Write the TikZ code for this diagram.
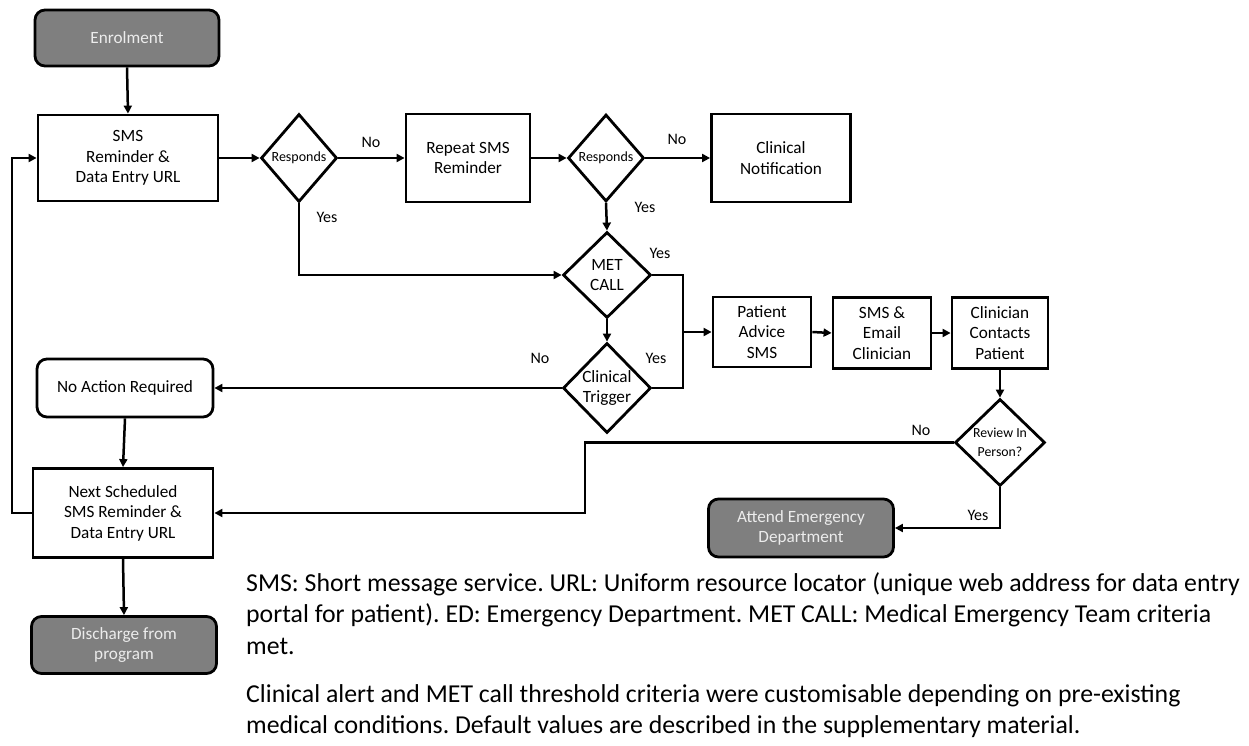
\documentclass[tikz,border=0pt]{standalone}
\usepackage{fontspec}
\setmainfont{Carlito}
\usetikzlibrary{arrows.meta,shapes.geometric}
\definecolor{boxgray}{RGB}{127,127,127}
\definecolor{lighttext}{RGB}{236,236,236}
\begin{document}
\frenchspacing
\begin{tikzpicture}[x=1pt,y=-1pt,
  base/.style={draw=black, line width=2.8pt, align=center, inner sep=0pt, font=\fontsize{17.2}{20.5}\selectfont},
  sqbox/.style={base, fill=white, rectangle},
  rbox/.style={base, fill=white, rectangle, rounded corners=10pt},
  gbox/.style={base, fill=boxgray, text=lighttext, rectangle, rounded corners=10pt},
  dia/.style={base, fill=white, diamond, aspect=1},
  arr/.style={line width=2.5pt, -{Triangle[length=8pt,width=8pt]}},
  ln/.style={line width=2.5pt},
  lab/.style={font=\fontsize{16}{18}\selectfont, inner sep=0pt},
  captext/.style={font=\fontsize{25.8}{31}\selectfont, anchor=base west, inner sep=0pt}
]
\useasboundingbox (0,0) rectangle (1249,746);

% nodes
\node[gbox, minimum width=184pt, minimum height=56pt] (enrol) at (127,38) {Enrolment};
\node[sqbox, minimum width=180pt, minimum height=86pt] (sms) at (128,158) {SMS\\Reminder \&\\Data Entry URL};
\node[dia, minimum width=76pt, minimum height=88pt, font=\fontsize{14}{15}\selectfont] (r1) at (299,158) {Responds};
\node[sqbox, minimum width=124pt, minimum height=88pt] (rep) at (468,158) {Repeat SMS\\Reminder};
\node[dia, minimum width=76pt, minimum height=87pt, font=\fontsize{14}{15}\selectfont] (r2) at (606,158) {Responds};
\node[sqbox, minimum width=139pt, minimum height=88pt] (notif) at (781,158) {Clinical\\Notification};
\node[dia, minimum width=88pt, minimum height=86pt] (met) at (607,275) {MET\\CALL};
\node[dia, minimum width=88pt, minimum height=90pt] (trig) at (607,388) {Clinical\\Trigger};
\node[sqbox, minimum width=98pt, minimum height=70pt] (adv) at (762,332) {Patient\\Advice\\SMS};
\node[sqbox, minimum width=98pt, minimum height=71pt] (email) at (882,333) {SMS \&\\Email\\Clinician};
\node[sqbox, minimum width=96pt, minimum height=71pt] (clin) at (1000,333) {Clinician\\Contacts\\Patient};
\node[dia, minimum width=90pt, minimum height=87pt, font=\fontsize{13.8}{19}\selectfont] (rev) at (1000,442.5) {Review In\\Person?};
\node[gbox, minimum width=185pt, minimum height=58pt] (ed) at (801,528) {Attend Emergency\\Department};
\node[rbox, minimum width=176pt, minimum height=58pt] (noact) at (125,388) {No Action Required};
\node[sqbox, minimum width=180pt, minimum height=89pt] (next) at (123,513) {Next Scheduled\\SMS Reminder \&\\Data Entry URL};
\node[gbox, minimum width=185pt, minimum height=57pt] (dis) at (124,645) {Discharge from\\program};

% helper coordinates
\coordinate (jx) at (683,332);
\coordinate (nb) at (585,442.5);
\coordinate (lp) at (12,513);

% connectors
\draw[arr] (enrol.south) -- (sms.north);
\draw[arr] (sms.east) -- (r1.west);
\draw[arr] (r1.east) -- (rep.west);
\draw[arr] (rep.east) -- (r2.west);
\draw[arr] (r2.east) -- (notif.west);
\draw[arr] (r2.south) -- (met.north);
\draw[arr] (r1.south) |- (met.west);
\draw[arr] (met.south) -- (trig.north);
\draw[ln] (met.east) -| (jx) |- (trig.east);
\draw[arr] (jx) -- (adv.west);
\draw[arr] (adv.east) -- (email.west);
\draw[arr] (email.east) -- (clin.west);
\draw[arr] (clin.south) -- (rev.north);
\draw[arr] (trig.west) -- (noact.east);
\draw[arr] (noact.south) -- (next.north);
\draw[arr] (rev.west) -- (nb) |- (next.east);
\draw[arr] (rev.south) |- (ed.east);
\draw[arr] (next.west) -- (lp) |- (sms.west);
\draw[arr] (next.south) -- (dis.north);

% labels
\node[lab] (l1) at (371,142) {No};
\node[lab] (l2) at (327,217) {Yes};
\node[lab] (l3) at (677,139) {No};
\node[lab] (l4) at (645,207) {Yes};
\node[lab] (l5) at (660,253) {Yes};
\node[lab] (l6) at (656,358) {Yes};
\node[lab] (l7) at (540,358) {No};
\node[lab] (l8) at (921,430) {No};
\node[lab] (l9) at (978,515) {Yes};

% caption
\node[captext] (c1) at (246,591) {SMS: Short message service. URL: Uniform resource locator (unique web address for data entry};
\node[captext] (c2) at (246,622.5) {portal for patient). ED: Emergency Department. MET CALL: Medical Emergency Team criteria};
\node[captext] (c3) at (246,654) {met.};
\node[captext] (c4) at (246,702) {Clinical alert and MET call threshold criteria were customisable depending on pre-existing};
\node[captext] (c5) at (246,733.5) {medical conditions. Default values are described in the supplementary material.};
\end{tikzpicture}
\end{document}
